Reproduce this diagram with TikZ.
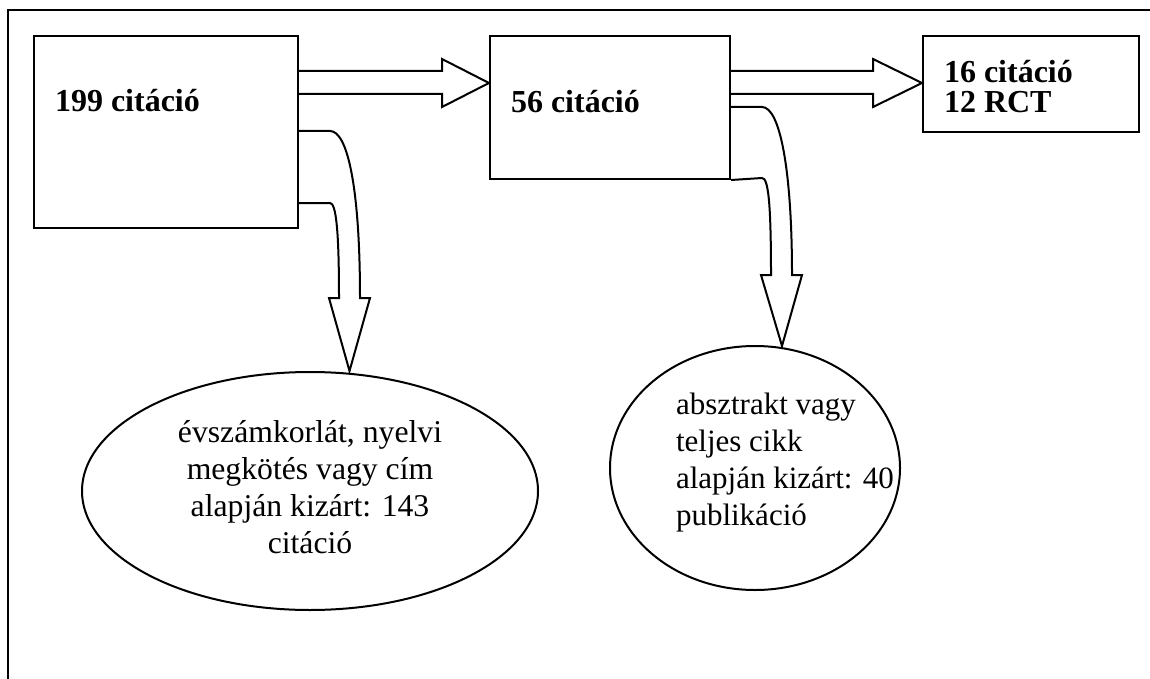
\documentclass[tikz,border=0pt]{standalone}
\usepackage{fontspec}
\setmainfont{Liberation Serif}
\usetikzlibrary{shapes.geometric}
\begin{document}
\begin{tikzpicture}[x=1pt,y=-1pt,line width=2pt,line join=miter,
  boxnode/.style={draw,rectangle,inner sep=0pt,anchor=north west},
  boldtxt/.style={font=\fontsize{32}{30}\selectfont\bfseries,inner sep=0pt},
  plaintxt/.style={font=\fontsize{31.7}{37}\selectfont,inner sep=0pt},
  ovalnode/.style={draw,ellipse,inner sep=0pt},
  blockarrow/.style={draw,fill=white}]
\useasboundingbox (0,0) rectangle (1150,679);
% outer frame
\draw (8,679) -- (8,10) -- (1150,10);
% boxes
\node[boxnode,minimum width=264pt,minimum height=192pt] (b1) at (33,35) {};
\node[boxnode,minimum width=240pt,minimum height=143pt] (b2) at (489,35) {};
\node[boxnode,minimum width=216pt,minimum height=96pt] (b3) at (922,35) {};
% box texts
\node[boldtxt,anchor=base west] (t1) at (54,112) {199 citáció};
\node[boldtxt,anchor=base west] (t2) at (510,113) {56 citáció};
\node[boldtxt,anchor=base west] (t3a) at (943,83) {16 citáció};
\node[boldtxt,anchor=base west] (t3b) at (943,113) {12 RCT};
% ellipses
\node[ovalnode,minimum width=456pt,minimum height=238pt] (e1) at (310,491) {};
\node[ovalnode,minimum width=290pt,minimum height=244pt] (e2) at (755,468) {};
% multi-line texts: base anchor = baseline of the last line
\node[plaintxt,align=center,anchor=base] (e1t) at (310,553)
  {évszámkorlát, nyelvi\\megkötés vagy cím\\alapján kizárt: 143\\citáció};
\node[plaintxt,font=\fontsize{31}{37}\selectfont,align=left,anchor=base west] (e2t) at (675,525)
  {absztrakt vagy\\teljes cikk\\alapján kizárt: 40\\publikáció};
% tips
\coordinate (tipA) at (b2.west |- 0,83);
\coordinate (tipB) at (b3.west |- 0,83);
\coordinate (tipC) at (349.5,371);
\coordinate (tipD) at (782,346);
% straight block arrows
\draw[blockarrow] (b1.east |- 0,71) -- (442,71) -- (442,59) -- (tipA)
  -- (442,107) -- (442,94) -- (b1.east |- 0,94);
\draw[blockarrow] (b2.east |- 0,71) -- (873,71) -- (873,59) -- (tipB)
  -- (873,107) -- (873,94) -- (b2.east |- 0,94);
% curved block arrows
\draw[blockarrow] (b1.east |- 0,131) -- (330,131)
  .. controls (348,131) and (360,190) .. (360,298) -- (370,298) -- (tipC)
  -- (329,298) -- (339,298) .. controls (339,230) and (336,203) .. (330,203)
  -- (b1.east |- 0,203);
\draw[blockarrow] (b2.east |- 0,107) -- (762,107)
  .. controls (780,107) and (792,170) .. (792,275) -- (802,275) -- (tipD)
  -- (761,275) -- (771,275) .. controls (771,200) and (768,178) .. (762,178)
  -- (b2.south east);
\end{tikzpicture}
\end{document}
